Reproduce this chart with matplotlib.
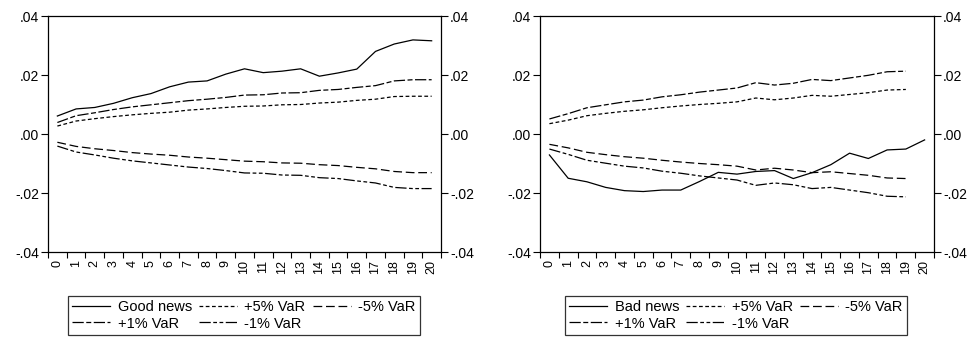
import numpy as np
import matplotlib
matplotlib.use("Agg")
from matplotlib import pyplot as plt
from matplotlib.lines import Line2D

plt.rcParams["font.family"] = ["Liberation Sans", "DejaVu Sans"]
plt.rcParams["font.size"] = 9.5

#horizon labels 0..20
horizon = list(range(21))
horizon_var_bad = list(range(20))  #the VaR bands in the right panel stop at 19

#left panel - good news
good_news = [0.0061, 0.0085, 0.0090, 0.0104, 0.0123, 0.0137, 0.0160, 0.0176, 0.0180, 0.0203, 0.0221,
             0.0208, 0.0213, 0.0221, 0.0196, 0.0207, 0.0220, 0.0280, 0.0305, 0.0319, 0.0316]
good_p5 = [0.0027, 0.0044, 0.0052, 0.0059, 0.0065, 0.0070, 0.0074, 0.0081, 0.0085, 0.0090, 0.0094,
           0.0095, 0.0099, 0.0100, 0.0105, 0.0108, 0.0114, 0.0118, 0.0127, 0.0128, 0.0128]
good_m5 = [-0.0028, -0.0042, -0.0050, -0.0056, -0.0063, -0.0068, -0.0072, -0.0078, -0.0082, -0.0087, -0.0092,
           -0.0094, -0.0098, -0.0099, -0.0104, -0.0107, -0.0113, -0.0118, -0.0127, -0.0131, -0.0131]
good_p1 = [0.0039, 0.0062, 0.0072, 0.0083, 0.0092, 0.0099, 0.0106, 0.0113, 0.0118, 0.0124, 0.0132,
           0.0133, 0.0139, 0.0140, 0.0148, 0.0151, 0.0158, 0.0164, 0.0180, 0.0184, 0.0184]
good_m1 = [-0.0041, -0.0061, -0.0071, -0.0082, -0.0091, -0.0098, -0.0105, -0.0112, -0.0117, -0.0124, -0.0132,
           -0.0133, -0.0139, -0.0140, -0.0148, -0.0151, -0.0159, -0.0166, -0.0181, -0.0185, -0.0185]

#right panel - bad news
bad_news = [-0.0071, -0.0150, -0.0162, -0.0181, -0.0192, -0.0195, -0.0190, -0.0190, -0.0161, -0.0130, -0.0136,
            -0.0127, -0.0124, -0.0151, -0.0131, -0.0104, -0.0065, -0.0083, -0.0054, -0.0051, -0.0020]
bad_p5 = [0.0035, 0.0047, 0.0062, 0.0070, 0.0077, 0.0082, 0.0089, 0.0095, 0.0100, 0.0104,
          0.0109, 0.0122, 0.0116, 0.0122, 0.0131, 0.0128, 0.0134, 0.0140, 0.0149, 0.0151]
bad_m5 = [-0.0035, -0.0047, -0.0062, -0.0070, -0.0077, -0.0082, -0.0089, -0.0095, -0.0100, -0.0104,
          -0.0109, -0.0122, -0.0116, -0.0122, -0.0131, -0.0128, -0.0134, -0.0140, -0.0149, -0.0151]
bad_p1 = [0.0051, 0.0069, 0.0089, 0.0099, 0.0109, 0.0115, 0.0126, 0.0133, 0.0142, 0.0149,
          0.0156, 0.0174, 0.0166, 0.0172, 0.0185, 0.0181, 0.0190, 0.0199, 0.0211, 0.0213]
bad_m1 = [-0.0051, -0.0069, -0.0089, -0.0099, -0.0109, -0.0115, -0.0126, -0.0133, -0.0142, -0.0149,
          -0.0156, -0.0174, -0.0166, -0.0172, -0.0185, -0.0181, -0.0190, -0.0199, -0.0211, -0.0213]

y_ticks = [-0.04, -0.02, 0.00, 0.02, 0.04]
y_labels = ["-.04", "-.02", ".00", ".02", ".04"]

#dash patterns roughly like eviews
styles = {
    "news": dict(linestyle="-"),
    "p5": dict(linestyle=(0, (3, 2))),
    "m5": dict(linestyle=(0, (7, 3))),
    "p1": dict(linestyle=(0, (9, 2, 4, 2))),
    "m1": dict(linestyle=(0, (9, 2, 3, 2, 3, 2))),
}


def draw_panel(ax, news, news_label, p5, m5, p1, m1, x_news, x_var, legend_xy):
    lw = 0.9
    ax.plot(x_news, news, color="black", lw=lw, **styles["news"])
    ax.plot(x_var, p5, color="black", lw=lw, **styles["p5"])
    ax.plot(x_var, m5, color="black", lw=lw, **styles["m5"])
    ax.plot(x_var, p1, color="black", lw=lw, **styles["p1"])
    ax.plot(x_var, m1, color="black", lw=lw, **styles["m1"])

    ax.set_xlim(-0.5, 20.5)
    ax.set_ylim(-0.04, 0.04)
    ax.set_yticks(y_ticks)
    ax.set_yticklabels(y_labels)
    ax.tick_params(axis="y", direction="out", length=5, width=0.8, right=True, labelright=True,
                   pad=1.5, labelsize=10)

    ax.set_xticks(horizon)
    ax.set_xticklabels([str(h) for h in horizon], rotation=90, va="top")
    ax.tick_params(axis="x", which="major", length=0, pad=6, labelsize=9)
    ax.set_xticks(np.arange(-0.5, 21, 1.0), minor=True)
    ax.tick_params(axis="x", which="minor", direction="out", length=4, width=0.8)

    for s in ax.spines.values():
        s.set_linewidth(0.9)

    #legend order chosen so columns fill like the original rows
    h = [Line2D([], [], color="black", lw=lw, **styles[k]) for k in ["news", "p1", "p5", "m1", "m5"]]
    labels = [news_label, "+1% VaR", "+5% VaR", "-1% VaR", "-5% VaR"]
    leg = ax.figure.legend(h, labels, loc="upper left", bbox_to_anchor=legend_xy, ncol=3,
                           frameon=True, fancybox=False, edgecolor="black", handlelength=2.6,
                           handletextpad=0.5, columnspacing=0.5, labelspacing=0.15,
                           borderpad=0.3, borderaxespad=0, fontsize=10.5)
    leg.get_frame().set_linewidth(0.9)


fig = plt.figure(figsize=(9.72, 3.37), dpi=100)
ax1 = fig.add_axes([0.0494, 0.2522, 0.4043, 0.7003])
ax2 = fig.add_axes([0.5556, 0.2522, 0.4053, 0.7003])

draw_panel(ax1, good_news, "Good news", good_p5, good_m5, good_p1, good_m1,
           horizon, horizon, (68 / 972, 1 - 296 / 337))
draw_panel(ax2, bad_news, "Bad news", bad_p5, bad_m5, bad_p1, bad_m1,
           horizon, horizon_var_bad, (565 / 972, 1 - 296 / 337))

fig.savefig("out.png", dpi=100)
